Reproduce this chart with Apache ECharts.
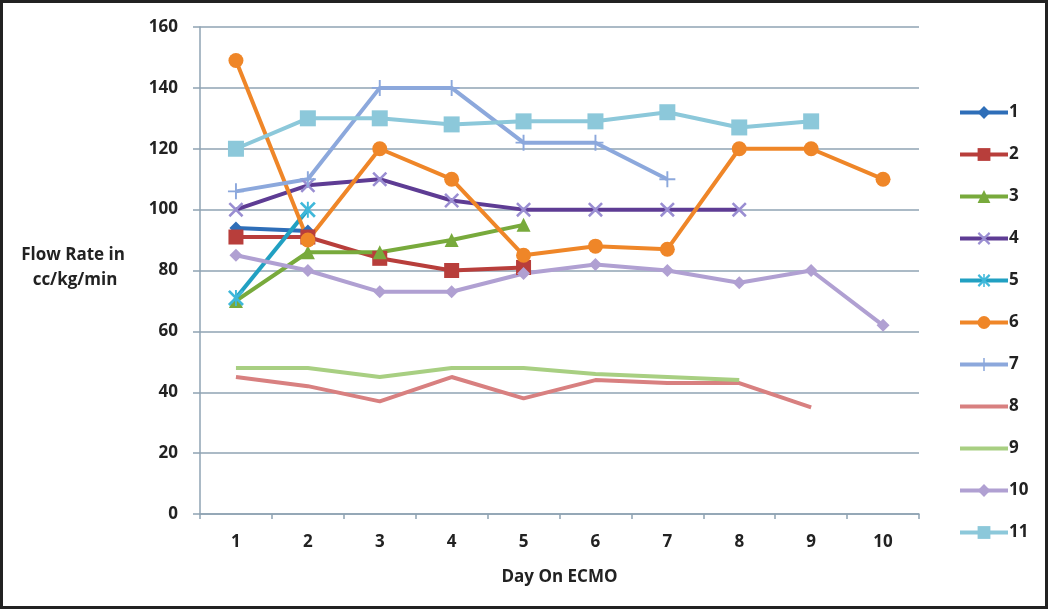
<!DOCTYPE html>
<html>
<head>
<meta charset="utf-8">
<script src="https://cdn.jsdelivr.net/npm/echarts@6/dist/echarts.min.js"></script>
<style>html,body{margin:0;padding:0;background:#fff}#c{width:1050px;height:611px}</style>
</head>
<body>
<div id="c"></div>
<script>
const days = ['1','2','3','4','5','6','7','8','9','10'];
const yTicks = [0,20,40,60,80,100,120,140,160];
const seriesNames = ['1','2','3','4','5','6','7','8','9','10','11'];
const s1 = [94, 93];
const s2 = [91, 91, 84, 80, 81];
const s3 = [70, 86, 86, 90, 95];
const s4 = [100, 108, 110, 103, 100, 100, 100, 100];
const s5 = [71, 100];
const s6 = [149, 90, 120, 110, 85, 88, 87, 120, 120, 110];
const s7 = [106, 110, 140, 140, 122, 122, 110];
const s8 = [45, 42, 37, 45, 38, 44, 43, 43, 35];
const s9 = [48, 48, 45, 48, 48, 46, 45, 44];
const s10 = [85, 80, 73, 73, 79, 82, 80, 76, 80, 62];
const s11 = [120, 130, 130, 128, 129, 129, 132, 127, 129];
const seriesValues = [s1,s2,s3,s4,s5,s6,s7,s8,s9,s10,s11];

const X = 'path://M0,1.2 L1.2,0 L10,8.8 L8.8,10 Z M8.8,0 L10,1.2 L1.2,10 L0,8.8 Z';
const PLUS = 'path://M4.4,0 H5.6 V4.4 H10 V5.6 H5.6 V10 H4.4 V5.6 H0 V4.4 H4.4 Z';
const STAR = 'path://M0,1.2 L1.2,0 L10,8.8 L8.8,10 Z M8.8,0 L10,1.2 L1.2,10 L0,8.8 Z M4.4,0 H5.6 V10 H4.4 Z';

const styles = [
  {line:'#2E6EB8', mark:'#2E6EB8', symbol:'diamond', size:13},
  {line:'#B83E3B', mark:'#B83E3B', symbol:'rect', size:15},
  {line:'#78AA3C', mark:'#78AA3C', symbol:'triangle', size:14},
  {line:'#5E3C94', mark:'#9A8ED2', symbol:X, size:15},
  {line:'#21A0C2', mark:'#3FB8DA', symbol:STAR, size:16},
  {line:'#EF8628', mark:'#EF8628', symbol:'circle', size:15},
  {line:'#8CA8DC', mark:'#8CA8DC', symbol:PLUS, size:16},
  {line:'#D88080', mark:'#D88080', symbol:'none', size:0},
  {line:'#A8CF82', mark:'#A8CF82', symbol:'none', size:0},
  {line:'#B0A0D2', mark:'#B0A0D2', symbol:'diamond', size:13},
  {line:'#8CC8DA', mark:'#8CC8DA', symbol:'rect', size:16}
];

const FONT = '"Open Sans"';
const chart = echarts.init(document.getElementById('c'));
chart.setOption({
  animation: false,
  backgroundColor: '#fff',
  grid: {left: 200, right: 131, top: 27, bottom: 97, containLabel: false},
  xAxis: {
    type: 'category', data: days, boundaryGap: true,
    axisLine: {lineStyle: {color: '#8FA3B3', width: 1.5}},
    axisTick: {show: true, length: 5, lineStyle: {color: '#8FA3B3', width: 1.5}},
    axisLabel: {margin: 20, color: '#222', fontFamily: FONT, fontWeight: 'bold', fontSize: 17},
    name: 'Day On ECMO', nameLocation: 'middle', nameGap: 55,
    nameTextStyle: {color: '#222', fontFamily: FONT, fontWeight: 'bold', fontSize: 17}
  },
  yAxis: {
    type: 'value', min: 0, max: 160, interval: 20,
    axisLine: {show: true, lineStyle: {color: '#8FA3B3', width: 1.5}},
    axisTick: {show: true, length: 7, lineStyle: {color: '#8FA3B3', width: 1.5}},
    axisLabel: {margin: 22, color: '#222', fontFamily: FONT, fontWeight: 'bold', fontSize: 17,
      formatter: v => yTicks.includes(v) ? String(v) : ''},
    splitLine: {show: true, lineStyle: {color: '#8FA3B3', width: 1.5}}
  },
  legend: {
    orient: 'vertical', left: 953, top: 99,
    itemWidth: 48, itemHeight: 16, itemGap: 25,
    lineStyle: {width: 4},
    textStyle: {color: '#222', fontFamily: FONT, fontWeight: 'bold', fontSize: 17, lineHeight: 16, padding: [0,0,0,-4]},
    data: seriesNames.map((n, i) => styles[i].symbol === 'none' ? {name: n, itemStyle: {opacity: 0}} : n)
  },
  graphic: [
    {type: 'text', x: 73, y: 255, style: {text: 'Flow Rate in', fill: '#222', font: 'bold 17px ' + FONT, align: 'center', verticalAlign: 'middle'}},
    {type: 'text', x: 75, y: 280, style: {text: 'cc/kg/min', fill: '#222', font: 'bold 17px ' + FONT, align: 'center', verticalAlign: 'middle'}},
    {type: 'rect', shape: {x: 1.5, y: 1.5, width: 1045, height: 606}, style: {fill: 'none', stroke: '#222', lineWidth: 3}, silent: true}
  ],
  series: seriesValues.map((vals, i) => ({
    name: seriesNames[i], type: 'line', data: vals,
    symbol: styles[i].symbol, symbolSize: styles[i].size, showSymbol: styles[i].symbol !== 'none',
    lineStyle: {color: styles[i].line, width: 4},
    itemStyle: {color: styles[i].mark},
    emphasis: {disabled: true}
  }))
});
</script>
</body>
</html>
